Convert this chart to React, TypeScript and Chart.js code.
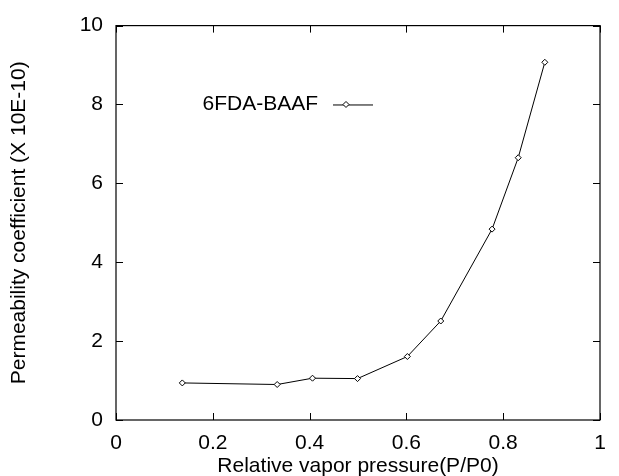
import React, { useEffect, useRef } from "react";
import { Chart, registerables } from "chart.js";

Chart.register(...registerables);

const seriesName = "6FDA-BAAF";
const xValues = [0.137, 0.333, 0.406, 0.499, 0.602, 0.671, 0.777, 0.831, 0.886];
const yValues = [0.94, 0.9, 1.06, 1.05, 1.61, 2.51, 4.84, 6.65, 9.07];
const xTicks = [0, 0.2, 0.4, 0.6, 0.8, 1];
const yTicks = [0, 2, 4, 6, 8, 10];
const xTitle = "Relative vapor pressure(P/P0)";
const yTitle = "Permeability coefficient (X 10E-10)";

const FONT = "'Liberation Sans', Arial, Helvetica, sans-serif";

const framePlugin = {
  id: "frame",
  afterDraw(chart: any) {
    const { ctx, chartArea } = chart;
    const { left, right, top, bottom } = chartArea;
    const xs = chart.scales.x;
    const ys = chart.scales.y;
    ctx.save();
    ctx.strokeStyle = "#000";
    ctx.lineWidth = 1.2;
    ctx.strokeRect(left, top, right - left, bottom - top);
    ctx.lineWidth = 1;
    const t = 7;
    ctx.beginPath();
    xTicks.forEach((v) => {
      const px = Math.round(xs.getPixelForValue(v)) + 0.5;
      ctx.moveTo(px, bottom);
      ctx.lineTo(px, bottom - t);
      ctx.moveTo(px, top);
      ctx.lineTo(px, top + t);
    });
    yTicks.forEach((v) => {
      const py = Math.round(ys.getPixelForValue(v)) + 0.5;
      ctx.moveTo(left, py);
      ctx.lineTo(left + t, py);
      ctx.moveTo(right, py);
      ctx.lineTo(right - t, py);
    });
    ctx.stroke();

    // legend
    const lx = left + 202;
    const ly = ys.getPixelForValue(8);
    ctx.font = `21px ${FONT}`;
    ctx.fillStyle = "#000";
    ctx.textAlign = "right";
    ctx.textBaseline = "middle";
    ctx.fillText(seriesName, lx, ly);
    ctx.beginPath();
    ctx.moveTo(lx + 15, ly + 0.5);
    ctx.lineTo(lx + 55, ly + 0.5);
    ctx.stroke();
    const cx = lx + 28;
    const r = 3;
    ctx.beginPath();
    ctx.moveTo(cx, ly - r);
    ctx.lineTo(cx + r, ly);
    ctx.lineTo(cx, ly + r);
    ctx.lineTo(cx - r, ly);
    ctx.closePath();
    ctx.fillStyle = "#fff";
    ctx.fill();
    ctx.stroke();
    ctx.restore();
  },
};

export default function App() {
  const ref = useRef<HTMLCanvasElement>(null);
  useEffect(() => {
    if (!ref.current) return;
    const chart = new Chart(ref.current, {
      type: "scatter",
      data: {
        datasets: [
          {
            label: seriesName,
            data: xValues.map((x, i) => ({ x, y: yValues[i] })),
            showLine: true,
            borderColor: "#000",
            borderWidth: 1,
            pointStyle: "rectRot",
            pointRadius: 3,
            pointBackgroundColor: "#fff",
            pointBorderColor: "#000",
            pointBorderWidth: 1,
          },
        ],
      },
      options: {
        animation: false,
        responsive: false,
        layout: { padding: { left: 0, top: 21, right: 19, bottom: 0 } },
        plugins: { legend: { display: false }, tooltip: { enabled: false } },
        scales: {
          x: {
            type: "linear",
            min: 0,
            max: 1,
            afterBuildTicks: (s: any) => {
              s.ticks = xTicks.map((v) => ({ value: v }));
            },
            afterFit: (s: any) => {
              s.height = 56;
            },
            grid: { display: false, drawTicks: false },
            border: { display: false },
            ticks: {
              color: "#000",
              font: { family: FONT, size: 21 },
              padding: 11,
              maxRotation: 0,
              callback: (v: any) => String(v),
            },
            title: {
              display: true,
              text: xTitle,
              color: "#000",
              font: { family: FONT, size: 21 },
              padding: { top: 0, bottom: -3 },
            },
          },
          y: {
            type: "linear",
            min: 0,
            max: 10,
            afterBuildTicks: (s: any) => {
              s.ticks = yTicks.map((v) => ({ value: v }));
            },
            afterFit: (s: any) => {
              s.width = 116;
            },
            grid: { display: false, drawTicks: false },
            border: { display: false },
            ticks: {
              color: "#000",
              font: { family: FONT, size: 21 },
              padding: 13,
              callback: (v: any) => String(v),
            },
            title: {
              display: true,
              text: yTitle,
              color: "#000",
              font: { family: FONT, size: 21 },
              padding: { top: 7, bottom: 0 },
            },
          },
        },
      },
      plugins: [framePlugin],
    });
    return () => chart.destroy();
  }, []);
  return (
    <div style={{ position: "fixed", left: 0, top: 0, width: 619, height: 476, background: "#fff" }}>
      <canvas ref={ref} width={619} height={476} style={{ display: "block" }} />
    </div>
  );
}
